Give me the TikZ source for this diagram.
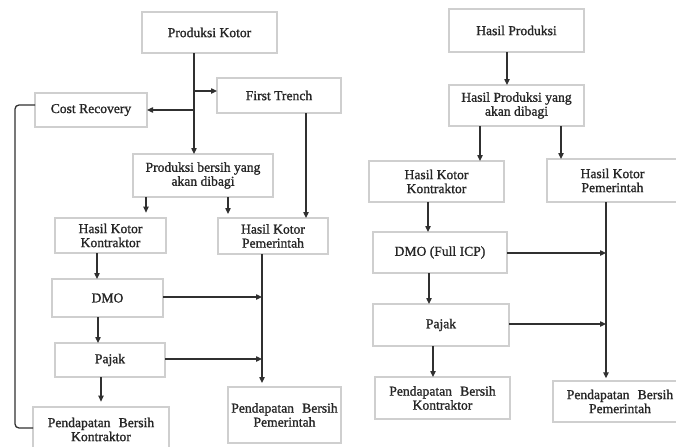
\documentclass[tikz,border=0pt]{standalone}
\usepackage{fontspec}
\setmainfont{Liberation Serif}[FakeBold=1.2]
\usetikzlibrary{arrows.meta,calc}
\definecolor{boxline}{HTML}{CFCFCF}
\definecolor{conline}{HTML}{303030}
\definecolor{txt}{HTML}{262626}
\tikzset{
  box/.style={draw=boxline, line width=1.1pt, inner sep=0pt, outer sep=0pt,
    align=center, text=txt, font=\fontsize{10.2}{10.5}\selectfont},
  con/.style={draw=conline, line width=0.95pt,
    -{Triangle[length=4.5pt,width=4pt]}},
  link/.style={draw=conline, line width=0.95pt, rounded corners=3pt}
}
\newcommand\pbox[6]{\node[box, minimum width={(#4-#2)*0.75pt}, minimum height={(#5-#3)*0.75pt}] (#1) at ({(#2+#4)/2},{(#3+#5)/2}) {#6};}
\begin{document}
\begin{tikzpicture}[x=0.75pt,y=-0.75pt]
\useasboundingbox (0,0) rectangle (676,447);
\clip (0,0) rectangle (676,447);
\fill[white] (0,0) rectangle (676,447);
% ---------- left diagram ----------
\pbox{pk}{142}{12}{277}{53}{Produksi Kotor}
\pbox{ft}{217}{78}{341}{113}{First Trench}
\pbox{cr}{35}{93}{147}{127}{Cost Recovery}
\pbox{pb}{133}{154}{273}{197}{Produksi bersih yang\\akan dibagi}
\pbox{hkk}{55}{218}{166}{253}{Hasil Kotor\\Kontraktor}
\pbox{hkp}{218}{218}{328}{254}{Hasil Kotor\\Pemerintah}
\pbox{dmo}{52}{279}{163}{317}{DMO}
\pbox{pj}{55}{343}{165}{377}{Pajak}
\pbox{pbk}{33}{407}{169}{452}{Pendapatan\hspace{0.6em}Bersih\\Kontraktor}
\pbox{pbp}{228}{387}{341}{443}{Pendapatan\hspace{0.6em}Bersih\\Pemerintah}
\coordinate (jx) at (194,0);
\coordinate (jft) at (0,91);
\coordinate (jcr) at (0,110);
\coordinate (xa) at (146,0);
\coordinate (xb) at (228,0);
\coordinate (xc) at (306,0);
\coordinate (xd) at (262,0);
\coordinate (ydmo) at (0,297);
\coordinate (ypj) at (0,359);
\coordinate (xl) at (15,0);
\coordinate (ycr) at (0,105);
\coordinate (ypbk) at (0,428);
\draw[con] (pk.south -| jx) -- (pb.north -| jx);
\draw[con] (jx |- jft) -- (ft.west |- jft);
\draw[con] (jx |- jcr) -- (cr.east |- jcr);
\draw[con, shorten >=4pt] (pb.south -| xa) -- (hkk.north -| xa);
\draw[con, shorten >=3pt] (pb.south -| xb) -- (hkp.north -| xb);
\draw[con] (ft.south -| xc) -- (hkp.north -| xc);
\draw[con] ($(hkk.south)+(-13.5,0)$) -- ($(dmo.north)+(-10.5,0)$);
\draw[con] ($(dmo.south)+(-9.5,0)$) -- ($(pj.north)+(-12,0)$);
\draw[con, shorten >=4pt] ($(pj.south)+(-9,0)$) -- ($(pbk.north)+(0,0)$);
\draw[con, shorten >=3pt] (hkp.south -| xd) -- (pbp.north -| xd);
\draw[con] (dmo.east |- ydmo) -- (xd |- ydmo);
\draw[con] (pj.east |- ypj) -- (xd |- ypj);
\draw[link] (cr.west |- ycr) -- (xl |- ycr) -- (xl |- ypbk) -- (pbk.west |- ypbk);
% ---------- right diagram ----------
\pbox{hp}{449}{9}{584}{52}{Hasil Produksi}
\pbox{hpd}{449}{85}{584}{126}{Hasil Produksi yang\\akan dibagi}
\pbox{rhkk}{369}{161}{504}{202}{Hasil Kotor\\Kontraktor}
\pbox{rhkp}{547}{159}{678}{202}{Hasil Kotor\\Pemerintah}
\pbox{rdmo}{373}{232}{507}{273}{DMO (Full ICP)}
\pbox{rpj}{373}{304}{509}{346}{Pajak}
\pbox{rpbk}{375}{377}{510}{419}{Pendapatan\hspace{0.6em}Bersih\\Kontraktor}
\pbox{rpbp}{553}{381}{687}{422}{Pendapatan\hspace{0.6em}Bersih\\Pemerintah}
\coordinate (ra) at (507,0);
\coordinate (rb) at (480,0);
\coordinate (rc) at (561,0);
\coordinate (rd) at (428,0);
\coordinate (re) at (429,0);
\coordinate (rf) at (433,0);
\coordinate (rg) at (606,0);
\coordinate (rydmo) at (0,253);
\coordinate (rypj) at (0,324);
\draw[con] (hp.south -| ra) -- (hpd.north -| ra);
\draw[con] (hpd.south -| rb) -- (rhkk.north -| rb);
\draw[con] (hpd.south -| rc) -- (rhkp.north -| rc);
\draw[con] (rhkk.south -| rd) -- (rdmo.north -| rd);
\draw[con] (rdmo.south -| re) -- (rpj.north -| re);
\draw[con] (rpj.south -| rf) -- (rpbk.north -| rf);
\draw[con, shorten >=2pt] (rhkp.south -| rg) -- (rpbp.north -| rg);
\draw[con] (rdmo.east |- rydmo) -- (rg |- rydmo);
\draw[con] (rpj.east |- rypj) -- (rg |- rypj);
\end{tikzpicture}
\end{document}
